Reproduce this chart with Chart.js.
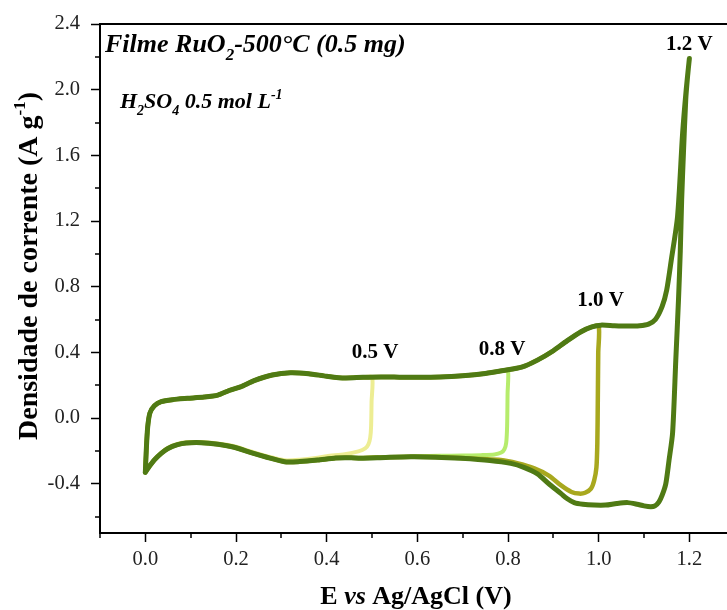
<!DOCTYPE html>
<html><head><meta charset="utf-8">
<script src="https://cdn.jsdelivr.net/npm/chart.js@4.4.1/dist/chart.umd.min.js"></script>
<style>html,body{margin:0;padding:0;background:#fff;}#wrap{width:727px;height:610px;}</style>
</head><body><div id="wrap"><canvas id="c" width="727" height="610"></canvas></div>
<script>
// ---- data (E in V vs Ag/AgCl, J in A g-1) ----
const vertexPotentials = [1.2, 1.0, 0.8, 0.5];
const seriesNames = ['1.2 V', '1.0 V', '0.8 V', '0.5 V'];

// shared anodic sweep (starts at 0.0 V)
const anodicE = [0.000, 0.002, 0.005, 0.010, 0.020, 0.035, 0.060, 0.093, 0.130, 0.160, 0.185, 0.210, 0.240, 0.280, 0.320, 0.360, 0.400, 0.440, 0.480, 0.520, 0.560, 0.600, 0.650, 0.700, 0.750, 0.790, 0.830, 0.865, 0.900, 0.930, 0.961, 0.985, 1.005, 1.035, 1.064, 1.090, 1.110, 1.125, 1.140, 1.150, 1.160, 1.174, 1.185, 1.193];
const anodicJ = [-0.330, -0.200, -0.060, 0.030, 0.075, 0.100, 0.112, 0.120, 0.128, 0.140, 0.168, 0.190, 0.228, 0.262, 0.276, 0.270, 0.255, 0.244, 0.248, 0.250, 0.249, 0.248, 0.250, 0.258, 0.272, 0.290, 0.310, 0.353, 0.410, 0.470, 0.526, 0.555, 0.566, 0.562, 0.560, 0.562, 0.572, 0.600, 0.680, 0.780, 0.960, 1.230, 1.730, 2.000];

// shared cathodic tail (0.454 V -> 0.0 V)
const tailE = [0.454, 0.420, 0.380, 0.340, 0.307, 0.270, 0.235, 0.196, 0.160, 0.123, 0.090, 0.071, 0.050, 0.035, 0.020, 0.006, 0.000];
const tailJ = [-0.242, -0.243, -0.256, -0.265, -0.266, -0.240, -0.212, -0.178, -0.160, -0.150, -0.152, -0.162, -0.185, -0.215, -0.255, -0.305, -0.330];

// reverse sweeps
const rev12E = [1.200, 1.196, 1.192, 1.187, 1.183, 1.180, 1.176, 1.170, 1.163, 1.155, 1.148, 1.140, 1.133, 1.124, 1.115, 1.100, 1.085, 1.064, 1.040, 1.015, 0.990, 0.965, 0.946, 0.930, 0.917, 0.890, 0.865, 0.835, 0.806, 0.760, 0.696, 0.640, 0.586, 0.530, 0.475];
const rev12J = [2.190, 2.080, 1.940, 1.620, 1.330, 1.020, 0.720, 0.350, -0.090, -0.260, -0.400, -0.470, -0.510, -0.535, -0.540, -0.535, -0.525, -0.515, -0.520, -0.530, -0.530, -0.525, -0.515, -0.490, -0.460, -0.400, -0.340, -0.300, -0.276, -0.258, -0.245, -0.238, -0.236, -0.240, -0.245];

const rev10E = [1.000, 0.999, 0.998, 0.997, 0.995, 0.990, 0.983, 0.970, 0.957, 0.940, 0.917, 0.890, 0.858, 0.820, 0.784, 0.740, 0.696, 0.640, 0.586, 0.530, 0.475];
const rev10J = [0.560, 0.400, 0.100, -0.150, -0.300, -0.380, -0.430, -0.455, -0.460, -0.450, -0.410, -0.350, -0.306, -0.275, -0.256, -0.250, -0.243, -0.237, -0.235, -0.238, -0.243];

const rev08E = [0.800, 0.799, 0.798, 0.796, 0.792, 0.785, 0.770, 0.740, 0.700, 0.650, 0.600, 0.550, 0.500, 0.475];
const rev08J = [0.290, 0.150, -0.050, -0.150, -0.190, -0.210, -0.222, -0.226, -0.228, -0.230, -0.233, -0.237, -0.240, -0.243];

const rev05E = [0.500, 0.499, 0.498, 0.496, 0.492, 0.485, 0.470, 0.440, 0.400, 0.380, 0.340, 0.307, 0.270, 0.235, 0.196, 0.160, 0.123, 0.090, 0.071, 0.050, 0.035, 0.020, 0.006, 0.000];
const rev05J = [0.250, 0.100, -0.050, -0.120, -0.160, -0.185, -0.203, -0.220, -0.232, -0.242, -0.254, -0.257, -0.234, -0.205, -0.172, -0.155, -0.146, -0.148, -0.158, -0.181, -0.211, -0.252, -0.302, -0.330];

// ticks
const xTickValues = [0.0, 0.2, 0.4, 0.6, 0.8, 1.0, 1.2];
const xMinorTicks = [-0.1, 0.1, 0.3, 0.5, 0.7, 0.9, 1.1];
const yTickValues = [-0.4, 0.0, 0.4, 0.8, 1.2, 1.6, 2.0, 2.4];
const yMinorTicks = [-0.6, -0.2, 0.2, 0.6, 1.0, 1.4, 1.8, 2.2];

// ---- build series ----
function pts(E, J) { return E.map((e, i) => ({x: e, y: J[i]})); }
function loop(vertex, rE, rJ, useTail) {
  const a = pts(anodicE, anodicJ).filter(p => p.x < vertex);
  const r = pts(rE, rJ);
  return useTail ? a.concat(r, pts(tailE, tailJ)) : a.concat(r);
}
const curves = [
  loop(vertexPotentials[0], rev12E, rev12J, true),
  loop(vertexPotentials[1], rev10E, rev10J, true),
  loop(vertexPotentials[2], rev08E, rev08J, true),
  loop(vertexPotentials[3], rev05E, rev05J, false)
];
const colors = ['#4f7a14', '#a8a81e', '#b6ec6c', '#eded93'];
const widths = [5, 4.5, 4, 4];

const SERIF = '"Liberation Serif", "Times New Roman", serif';

function drawRich(ctx, segs, x, y, align) {
  let total = 0;
  segs.forEach(s => { ctx.font = s.font; s.w = ctx.measureText(s.t).width; total += s.w; });
  let cx = align === 'center' ? x - total / 2 : x;
  ctx.textBaseline = 'alphabetic';
  ctx.textAlign = 'left';
  segs.forEach(s => { ctx.font = s.font; ctx.fillText(s.t, cx, y + (s.dy || 0)); cx += s.w; });
}

const decor = {
  id: 'decor',
  afterDraw(chart) {
    const ctx = chart.ctx, a = chart.chartArea;
    const xs = chart.scales.x, ys = chart.scales.y;
    ctx.save();
    ctx.strokeStyle = '#000';
    ctx.lineWidth = 2;
    // top frame line
    ctx.beginPath(); ctx.moveTo(a.left - 1, a.top); ctx.lineTo(a.right, a.top); ctx.stroke();
    // minor ticks
    ctx.lineWidth = 1.5;
    xMinorTicks.forEach(v => { const p = Math.round(xs.getPixelForValue(v)); ctx.beginPath(); ctx.moveTo(p, a.bottom); ctx.lineTo(p, a.bottom + 5); ctx.stroke(); });
    yMinorTicks.forEach(v => { const p = Math.round(ys.getPixelForValue(v)); ctx.beginPath(); ctx.moveTo(a.left, p); ctx.lineTo(a.left - 5, p); ctx.stroke(); });
    ctx.fillStyle = '#000';
    // x title
    drawRich(ctx, [
      {t: 'E ', font: 'bold 26px ' + SERIF},
      {t: 'vs', font: 'italic bold 26px ' + SERIF},
      {t: ' Ag/AgCl (V)', font: 'bold 26px ' + SERIF}
    ], 416, 604, 'center');
    // y title
    ctx.save();
    ctx.translate(37, 266);
    ctx.rotate(-Math.PI / 2);
    drawRich(ctx, [
      {t: 'Densidade de corrente (A g', font: 'bold 28px ' + SERIF},
      {t: '-1', font: 'bold 17px ' + SERIF, dy: -12},
      {t: ')', font: 'bold 28px ' + SERIF}
    ], 0, 0, 'center');
    ctx.restore();
    // sample annotations
    drawRich(ctx, [
      {t: 'Filme RuO', font: 'italic bold 26px ' + SERIF},
      {t: '2', font: 'italic bold 17px ' + SERIF, dy: 8},
      {t: '-500°C (0.5 mg)', font: 'italic bold 26px ' + SERIF}
    ], 105, 52, 'left');
    drawRich(ctx, [
      {t: 'H', font: 'italic bold 22px ' + SERIF},
      {t: '2', font: 'italic bold 14px ' + SERIF, dy: 7},
      {t: 'SO', font: 'italic bold 22px ' + SERIF},
      {t: '4', font: 'italic bold 14px ' + SERIF, dy: 7},
      {t: ' 0.5 mol L', font: 'italic bold 22px ' + SERIF},
      {t: '-1', font: 'italic bold 14px ' + SERIF, dy: -9}
    ], 120, 108, 'left');
    // vertex labels
    const lab = chart.options.plugins.decor.labels;
    lab.forEach(l => {
      drawRich(ctx, [{t: l.text, font: 'bold 21px ' + SERIF}],
        xs.getPixelForValue(l.e) + l.dx, ys.getPixelForValue(l.j), 'center');
    });
    ctx.restore();
  }
};

new Chart(document.getElementById('c'), {
  type: 'scatter',
  data: {
    datasets: curves.map((d, i) => ({
      label: seriesNames[i],
      data: d,
      showLine: true,
      borderColor: colors[i],
      backgroundColor: colors[i],
      borderWidth: widths[i],
      pointRadius: 0,
      tension: 0.25,
      borderJoinStyle: 'round',
      borderCapStyle: 'round'
    }))
  },
  options: {
    responsive: false,
    animation: false,
    devicePixelRatio: 1,
    layout: {padding: {top: 24, left: 0, right: 0, bottom: 0}},
    plugins: {
      legend: {display: false},
      tooltip: {enabled: false},
      decor: {
        labels: [
          {text: '0.5 V', e: vertexPotentials[3], dx: 3, j: 0.365},
          {text: '0.8 V', e: vertexPotentials[2], dx: -6, j: 0.384},
          {text: '1.0 V', e: vertexPotentials[1], dx: 2, j: 0.682},
          {text: '1.2 V', e: vertexPotentials[0], dx: 0, j: 2.24}
        ]
      }
    },
    scales: {
      x: {
        type: 'linear', position: 'bottom', min: -0.1, max: 1.283,
        afterFit(s) { s.height = 77; },
        afterBuildTicks(s) { s.ticks = xTickValues.map(v => ({value: v})); },
        grid: {drawOnChartArea: false, drawTicks: true, tickLength: 9, tickWidth: 1.5, tickColor: '#000'},
        border: {display: true, color: '#000', width: 2},
        ticks: {color: '#222', padding: 5, maxRotation: 0, font: {family: SERIF, size: 20.5},
          callback: v => Number(v).toFixed(1)}
      },
      y: {
        type: 'linear', position: 'left', min: -0.7, max: 2.4,
        afterFit(s) { s.width = 100; },
        afterBuildTicks(s) { s.ticks = yTickValues.map(v => ({value: v})); },
        grid: {drawOnChartArea: false, drawTicks: true, tickLength: 9, tickWidth: 1.5, tickColor: '#000'},
        border: {display: true, color: '#000', width: 2},
        ticks: {color: '#222', padding: 11, font: {family: SERIF, size: 20.5},
          callback: v => Number(v).toFixed(1)}
      }
    }
  },
  plugins: [decor]
});
</script></body></html>
